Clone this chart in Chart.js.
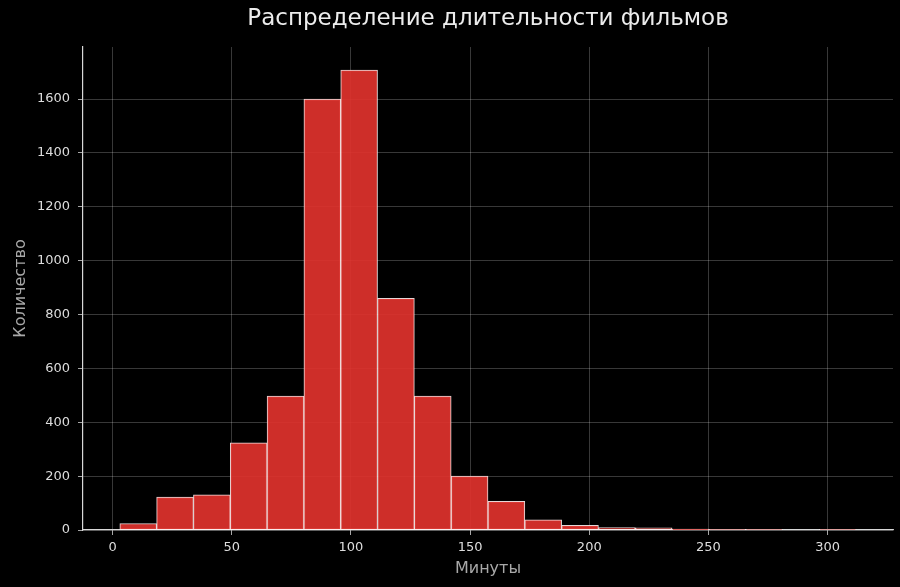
<!DOCTYPE html>
<html>
<head>
<meta charset="utf-8">
<script src="https://cdn.jsdelivr.net/npm/chart.js@4.4.0/dist/chart.umd.min.js"></script>
<style>
  html, body { margin: 0; padding: 0; background: #000; }
  #wrap { width: 900px; height: 587px; }
</style>
</head>
<body>
<div id="wrap"><canvas id="chart" width="900" height="587"></canvas></div>
<script>
// histogram of film durations, 20 bins between 3 and 312 minutes
const binStart = 3;
const binEnd = 312;
const binCounts = [24, 122, 131, 324, 497, 1600, 1708, 860, 497, 200, 106, 38, 17, 9, 8, 3, 2, 2, 0, 2];
const xTicks = [0, 50, 100, 150, 200, 250, 300];
const yTicks = [0, 200, 400, 600, 800, 1000, 1200, 1400, 1600];
const titleText = 'Распределение длительности фильмов';

const binWidth = (binEnd - binStart) / binCounts.length;
const margin = (binEnd - binStart) * 0.05;
const yMax = Math.max(...binCounts) * 1.05;

const points = binCounts.map((c, i) => ({ x: binStart + binWidth * (i + 0.5), y: c }));

const tickFont = { family: "'DejaVu Sans', sans-serif", size: 13 };
const labelFont = { family: "'DejaVu Sans', sans-serif", size: 16 };

// title centred over the plot area, like matplotlib does
const axesTitle = {
    id: 'axesTitle',
    afterDraw(chart) {
        const { ctx, chartArea } = chart;
        ctx.save();
        ctx.fillStyle = '#ececec';
        ctx.font = "23px 'DejaVu Sans', sans-serif";
        ctx.textAlign = 'center';
        ctx.textBaseline = 'middle';
        ctx.fillText(titleText, (chartArea.left + chartArea.right) / 2, 19);
        ctx.restore();
    }
};

new Chart(document.getElementById('chart'), {
    type: 'bar',
    data: {
        datasets: [{
            data: points,
            backgroundColor: 'rgba(222, 50, 44, 0.93)',
            borderColor: 'rgba(255, 238, 238, 0.9)',
            borderWidth: 1,
            borderSkipped: false,
            barPercentage: 1,
            categoryPercentage: 1,
            grouped: false
        }]
    },
    options: {
        responsive: false,
        animation: false,
        layout: { padding: { left: 0, right: 7, top: 47, bottom: 0 } },
        plugins: {
            legend: { display: false },
            tooltip: { enabled: false },
            title: { display: false }
        },
        scales: {
            x: {
                type: 'linear',
                offset: false,
                min: binStart - margin,
                max: binEnd + margin,
                afterBuildTicks: (scale) => { scale.ticks = xTicks.map(v => ({ value: v })); },
                afterFit: (scale) => { scale.height = 57; },
                ticks: { color: '#dddddd', font: tickFont, padding: 5, maxRotation: 0, callback: (v) => String(v) },
                grid: { offset: false, color: 'rgba(255,255,255,0.28)', lineWidth: 0.8, tickColor: '#d0d0d0', tickLength: 5 },
                border: { color: '#d8d8d8', width: 1.2 },
                title: { display: true, text: 'Минуты', color: '#a8a8a8', font: labelFont, padding: { top: 0, bottom: 9 } }
            },
            y: {
                min: 0,
                max: yMax,
                afterBuildTicks: (scale) => { scale.ticks = yTicks.map(v => ({ value: v })); },
                afterFit: (scale) => { scale.width = 83; },
                ticks: { color: '#dddddd', font: tickFont, padding: 8, callback: (v) => String(v) },
                grid: { color: 'rgba(255,255,255,0.28)', lineWidth: 0.8, tickColor: '#d0d0d0', tickLength: 5 },
                border: { color: '#d8d8d8', width: 1.2 },
                title: { display: true, text: 'Количество', color: '#a8a8a8', font: labelFont, padding: { top: 11, bottom: 0 } }
            }
        }
    },
    plugins: [axesTitle]
});
</script>
</body>
</html>
